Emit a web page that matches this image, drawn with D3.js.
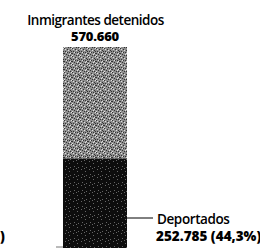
<!DOCTYPE html>
<html><head><meta charset="utf-8">
<script src="https://cdn.jsdelivr.net/npm/d3@7"></script>
<style>html,body{margin:0;padding:0;background:#fff;}svg{display:block;}</style>
</head><body>
<script>
const categories = ["Inmigrantes detenidos"];
const totalValues = [570660];
const deportedValues = [252785];
const deportedShare = ["44,3%"];
const totalLabels = ["570.660"];
const deportedLabels = ["252.785"];

const W = 260, H = 248;
const svg = d3.select("body").append("svg").attr("width", W).attr("height", H);
const defs = svg.append("defs");
function noise(id, bg, fg, cells, size) {
  const p = defs.append("pattern").attr("id", id).attr("width", size).attr("height", size).attr("patternUnits", "userSpaceOnUse");
  p.append("rect").attr("width", size).attr("height", size).attr("fill", bg);
  cells.forEach(([x, y]) => p.append("rect").attr("x", x).attr("y", y).attr("width", 1).attr("height", 1).attr("fill", fg));
}
noise("light", "#8e8e8e", "#333", [[0,0],[3,1],[6,2],[1,3],[5,4],[2,6],[7,5],[4,7],[0,5],[6,7],[3,4],[7,3]], 8);
defs.select("#light").selectAll(null).data([[1,1],[4,2],[7,0],[2,4],[6,5],[0,7],[5,6]]).enter()
  .append("rect").attr("x", d => d[0]).attr("y", d => d[1]).attr("width", 1).attr("height", 1).attr("fill", "#e0e0e0");
noise("dark", "#0d0d0d", "#666", [[1,1],[5,3],[2,6],[6,7],[4,0]], 8);

const x = d3.scaleBand().domain(categories).range([63, 127]).padding(0);
const y = d3.scaleLinear().domain([0, totalValues[0]]).range([247, 47]);

const g = svg.append("g");
const font = "Open Sans";
categories.forEach((c, i) => {
  g.append("rect").attr("x", x(c)).attr("width", x.bandwidth())
    .attr("y", y(totalValues[i])).attr("height", y(deportedValues[i]) - y(totalValues[i]))
    .attr("fill", "url(#light)");
  g.append("rect").attr("x", x(c)).attr("width", x.bandwidth())
    .attr("y", y(deportedValues[i])).attr("height", y(0) - y(deportedValues[i]) + 2)
    .attr("fill", "url(#dark)");
  const cx = x(c) + x.bandwidth() / 2;
  svg.append("text").attr("x", cx + 0.5).attr("y", 24.5).attr("text-anchor", "middle")
    .attr("font-family", font).attr("font-weight", 600).attr("font-size", 13.5)
    .attr("letter-spacing", -0.5).text(c);
  svg.append("text").attr("x", cx).attr("y", 40.5).attr("text-anchor", "middle")
    .attr("font-family", font).attr("font-weight", 800).attr("font-size", 13)
    .attr("letter-spacing", -0.2).text(totalLabels[i]);
  svg.append("line").attr("x1", x(c) + x.bandwidth()).attr("x2", 153).attr("y1", 218).attr("y2", 218)
    .attr("stroke", "#000").attr("stroke-width", 1);
  svg.append("text").attr("x", 157).attr("y", 224)
    .attr("font-family", font).attr("font-weight", 600).attr("font-size", 13.5)
    .attr("letter-spacing", -0.4).text("Deportados");
  svg.append("text").attr("x", 156).attr("y", 241)
    .attr("font-family", font).attr("font-weight", 800).attr("font-size", 13.5)
    .attr("letter-spacing", 0).text(deportedLabels[i] + " (" + deportedShare[i] + ")");
});
svg.append("text").attr("x", 0).attr("y", 241)
  .attr("font-family", font).attr("font-weight", 800).attr("font-size", 13.5).text(")");
svg.append("line").attr("x1", 56).attr("x2", 63).attr("y1", 247).attr("y2", 247).attr("stroke", "#777");
</script>
</body></html>
